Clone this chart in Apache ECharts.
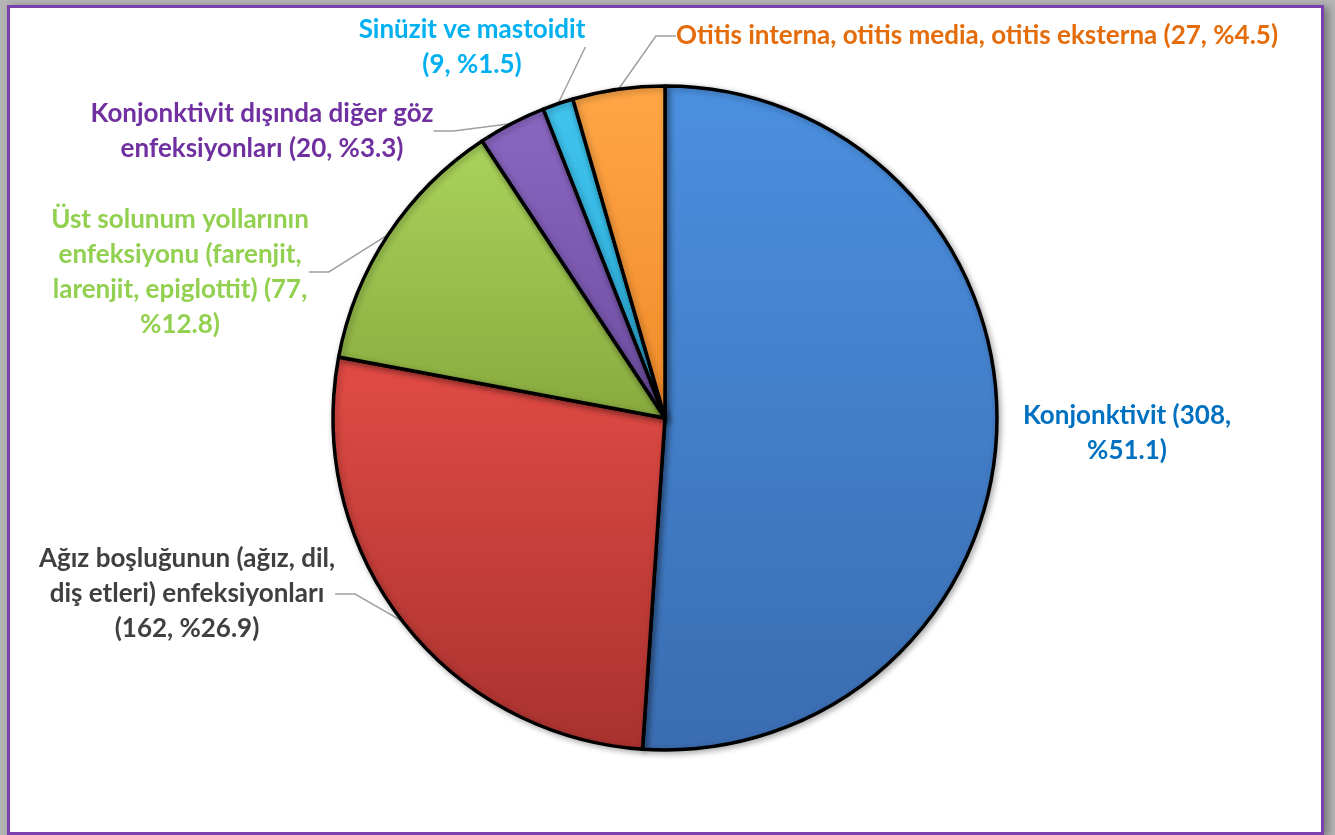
<!DOCTYPE html>
<html>
<head>
<meta charset="utf-8">
<script src="https://cdn.jsdelivr.net/npm/echarts@6/dist/echarts.min.js"></script>
<style>
  html, body { margin: 0; padding: 0; background: #b4b4b4; }
  #frame {
    position: absolute; left: 7px; top: 5px;
    width: 1311px; height: 824px;
    border: 3px solid #7b3fae; background: #fff;
    box-shadow: 4px 2px 8px rgba(0,0,0,0.35);
  }
  #main { position: absolute; left: -10px; top: -8px; width: 1335px; height: 835px; }
</style>
</head>
<body>
<div id="frame"><div id="main"></div></div>
<script>
// kategoriler ve değerler
var categories = [
  'Konjonktivit',
  'Ağız boşluğunun (ağız, dil, diş etleri) enfeksiyonları',
  'Üst solunum yollarının enfeksiyonu (farenjit, larenjit, epiglottit)',
  'Konjonktivit dışında diğer göz enfeksiyonları',
  'Sinüzit ve mastoidit',
  'Otitis interna, otitis media, otitis eksterna'
]
var values = [308, 162, 77, 20, 9, 27]

// dilim renkleri (üst, alt) ve etiket renkleri
var sliceTop = ['#4b90e0', '#e24b45', '#a9d35b', '#8a67c2', '#40c4ee', '#ffa646']
var sliceBottom = ['#3a6cb0', '#a8322e', '#88aa3e', '#6d4d9f', '#2aa9d6', '#f08a2a']
var labelColors = ['#0070c0', '#404040', '#92d050', '#7030a0', '#00b0f0', '#e46c0a']

// etiket konumları (merkez) ve her satırdaki kelime sayısı
var labelPos = [[1127, 433], [187, 594], [180, 272], [262, 131], [472, 47], [977, 36]]
var lineWords = [[2, 1], [4, 3, 2], [3, 2, 3, 1], [4, 3], [3, 2], [9]]

var total = values.reduce(function (a, b) { return a + b }, 0)

function wrapText (text, counts) {
  var words = text.split(' ')
  var lines = []
  var k = 0
  counts.forEach(function (n) {
    lines.push(words.slice(k, k + n).join(' '))
    k += n
  })
  if (k < words.length) lines.push(words.slice(k).join(' '))
  return lines.join('\n')
}

var myChart = echarts.init(document.getElementById('main'))

var data = categories.map(function (name, i) {
  return {
    name: name,
    value: values[i],
    itemStyle: {
      color: new echarts.graphic.LinearGradient(0, 0, 0, 1, [
        { offset: 0, color: sliceTop[i] },
        { offset: 1, color: sliceBottom[i] }
      ])
    },
    label: { color: labelColors[i] },
    labelLine: { show: i !== 0 }
  }
})

// geniş bir alan veriliyor ki etiket genişliği kısılmasın
var offX = 1000
var offY = 1000

myChart.setOption({
  animation: false,
  series: [
    {
      type: 'pie',
      left: -offX,
      top: -offY,
      width: 1335 + 2 * offX,
      height: 835 + 2 * offY,
      center: [665 + offX, 418 + offY],
      radius: 332,
      startAngle: 90,
      clockwise: true,
      data: data,
      itemStyle: {
        borderColor: '#000',
        borderWidth: 3.5,
        shadowColor: 'rgba(0,0,0,0.3)',
        shadowBlur: 6,
        shadowOffsetX: 2,
        shadowOffsetY: 2
      },
      label: {
        show: true,
        position: 'outside',
        formatter: function (p) {
          var s = p.name + ' (' + p.value + ', %' + (p.value / total * 100).toFixed(1) + ')'
          return wrapText(s, lineWords[p.dataIndex])
        },
        fontFamily: 'Lato',
        fontWeight: 'bold',
        fontSize: 26,
        lineHeight: 35,
        align: 'center',
        overflow: 'none'
      },
      labelLine: {
        show: true,
        length: 20,
        length2: 20,
        lineStyle: { color: '#a0a0a0', width: 1.5 }
      },
      labelLayout: function (params) {
        var p = labelPos[params.dataIndex]
        return { x: p[0], y: p[1], align: 'center', verticalAlign: 'middle' }
      }
    }
  ]
})
</script>
</body>
</html>
